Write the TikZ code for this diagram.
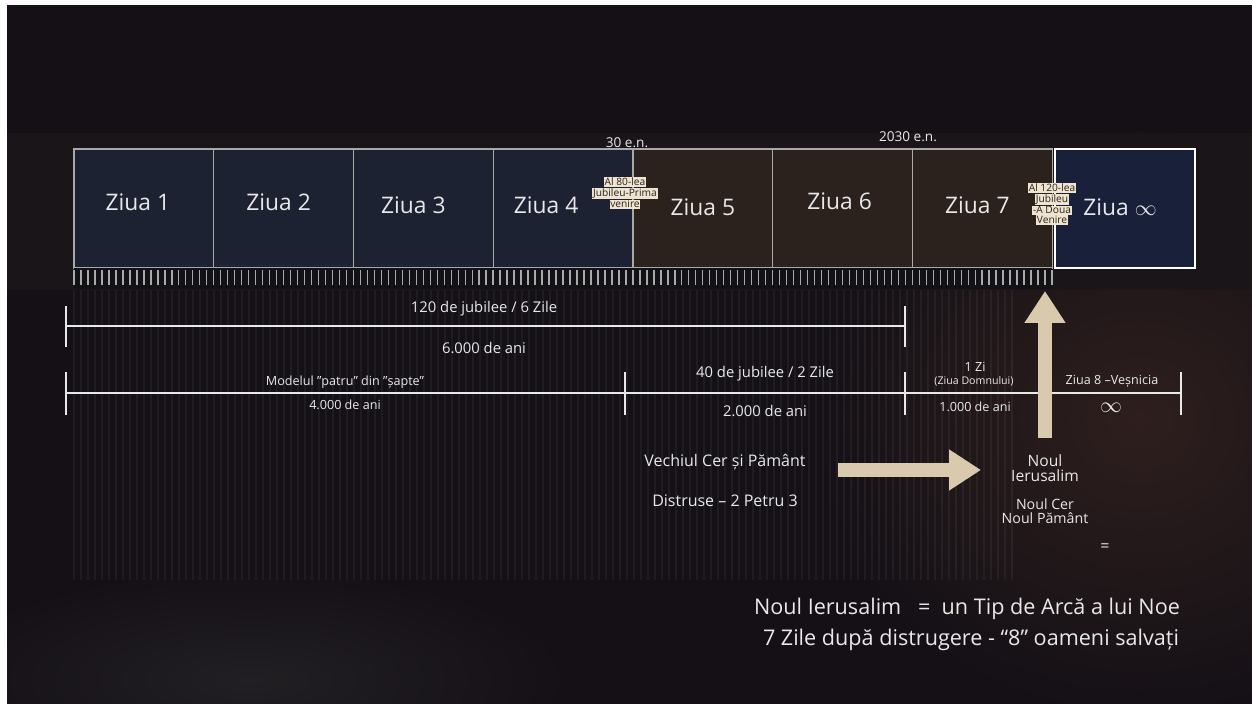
\documentclass[tikz,border=0pt]{standalone}
\usepackage{fontspec}
\setmainfont{Open Sans}
\usetikzlibrary{positioning,arrows.meta}

\definecolor{bgdark}{HTML}{141016}
\definecolor{bandcol}{HTML}{1A1519}
\definecolor{stripcol}{HTML}{121116}
\definecolor{glowcol}{HTML}{2E1F1D}
\definecolor{navybox}{HTML}{1D2233}
\definecolor{brownbox}{HTML}{2B211D}
\definecolor{infbox}{HTML}{18203A}
\definecolor{linegray}{HTML}{A9A9A9}
\definecolor{txt}{HTML}{E8E8E8}
\definecolor{beige}{HTML}{D9CAAE}
\definecolor{tagbg}{HTML}{EEE4D0}
\definecolor{tagtxt}{HTML}{2B2420}

\newcommand{\fs}[1]{\fontsize{#1}{#1}\selectfont}

\tikzset{
  day/.style={draw=linegray, line width=0.6pt, minimum width=69.9pt,
    minimum height=59.5pt, inner sep=0pt},
  daytext/.style={text=txt, inner sep=0pt, font=\fs{11.4}},
  lbl/.style={text=txt, inner sep=1pt, font=\fs{8}},
  span/.style={text=txt, inner sep=1pt, font=\fs{7.4}},
  small/.style={text=txt, inner sep=0.5pt, font=\fs{6.3}},
  tiny/.style={text=txt, inner sep=0.5pt, font=\fs{5.3}},
  big/.style={text=txt, inner sep=1pt, font=\fs{10.8}},
  tag/.style={fill=tagbg, text=tagtxt, inner sep=0.4pt, font=\fs{5.1}},
  bar/.style={draw=txt, line width=1.1pt},
  fat/.style={draw=beige, line width=7pt,
    -{Triangle[width=19.5pt,length=16pt,fill=beige]}}
}

\begin{document}
\begin{tikzpicture}[x=0.5pt,y=-0.5pt]
\useasboundingbox (0,0) rectangle (1252,704);

% background
\fill[white] (0,0) rectangle (1252,704);
\fill[bgdark] (7,5) rectangle (1252,704);
\begin{scope}
\clip (7,5) rectangle (1252,704);
\shade[inner color=glowcol, outer color=bgdark] (1140,420) ellipse [x radius=330, y radius=300];
\shade[inner color=black!70!white!25!bgdark, outer color=bgdark] (250,680) ellipse [x radius=320, y radius=110];
\end{scope}
\fill[bandcol] (7,133) rectangle (1252,290);

% faint stripes
\foreach \i in {0,...,134}
  \draw[white, opacity=0.05, line width=0.8pt] ({74+7*\i},290) -- ({74+7*\i},580);

% day boxes
\foreach \i/\c/\dx/\dy in {1/navybox/-6/-6,2/navybox/-5/-6,3/navybox/-10/-3,4/navybox/-17/-3,
    5/brownbox/0/-1,6/brownbox/-3/-7,7/brownbox/-5/-3}{
  \node[day, fill=\c] (d\i) at ({74+139.75*(\i-0.5)},208.5) {};
  \node[daytext] (z\i) at ([shift={(\dx,\dy)}]d\i.center) {Ziua \i};
}
\node[day, fill=infbox, draw=white, line width=1.4pt, minimum width=70pt] (dinf) at (1125,208.5) {};
\node[daytext] (zinf) at ([shift={(-5,-1)}]dinf.center) {Ziua $\infty$};

% tick strip
\fill[stripcol] (74,268) rectangle (1052,289);
\foreach \i in {0,...,140}
  \draw[linegray, line width=0.7pt] ({74+6.986*\i},270) -- ++(0,15);

% years
\node[small, font=\fs{6.8}] (t30) at (627,143) {30 e.n.};
\node[small, font=\fs{6.8}] (t2030) at (908,137) {2030 e.n.};

% jubilee tags
\node[tag] (tagA1) at (625,182) {Al 80-lea};
\node[tag, below=0pt of tagA1] (tagA2) {Jubileu-Prima};
\node[tag, below=0pt of tagA2] (tagA3) {venire};

\node[tag] (tagB1) at (1052,188) {Al 120-lea};
\node[tag, below=0pt of tagB1] (tagB2) {Jubileu};
\node[tag, below=0pt of tagB2] (tagB3) {-A Doua};
\node[tag, below=0pt of tagB3] (tagB4) {Venire};

% first span
\draw[bar] (66,306) -- (66,347);
\draw[bar] (905,306) -- (905,347);
\draw[bar] (66,326) -- (905,326);
\node[span] (j120) at (484,309) {120 de jubilee / 6 Zile};
\node[span] (y6000) at (484,348) {6.000 de ani};

% second span
\foreach \x in {66,625,905,1181}
  \draw[bar] (\x,372) -- (\x,415);
\draw[bar] (66,393) -- (1181,393);
\node[small] (model) at (345,382) {Modelul "patru" din "șapte"};
\node[small] (y4000) at (345,405) {4.000 de ani};
\node[span] (j40) at (765,374) {40 de jubilee / 2 Zile};
\node[span] (y2000) at (765,411) {2.000 de ani};
\node[small] (zi1) at (975,367) {1 Zi};
\node[tiny] (domn) at (974,381) {(Ziua Domnului)};
\node[small] (y1000) at (975,407) {1.000 de ani};
\node[small] (z8) at (1112,381) {Ziua 8 –Veșnicia};
\node[text=txt, inner sep=0pt, font=\fs{11}] (inf) at (1111,408) {$\infty$};

% new Jerusalem
\node[lbl, align=center, font=\fs{7.8}] (noul) at (1045,468) {Noul\\Ierusalim};
\node[lbl, align=center, font=\fs{7.1}] (noulcer) at (1045,511) {Noul Cer\\Noul Pământ};
\node[lbl] (eq) at (1105,548) {=};

\coordinate (upTip) at (1045,291);
\draw[fat, shorten <=7pt] (noul.north -| upTip) -- (upTip);

\node[lbl] (vechi) at (725,462) {Vechiul Cer și Pământ};
\node[lbl] (distr) at (725,501) {Distruse – 2 Petru 3};
\coordinate (rStart) at (838,470);
\coordinate (rTip) at (981,470);
\draw[fat] (rStart) -- (rTip);

\node[big] (ark) at (967,609) {Noul Ierusalim \ \ = \ un Tip de Arcă a lui Noe};
\node[big] (seven) at (971,640) {7 Zile după distrugere - “8” oameni salvați};
\end{tikzpicture}
\end{document}
